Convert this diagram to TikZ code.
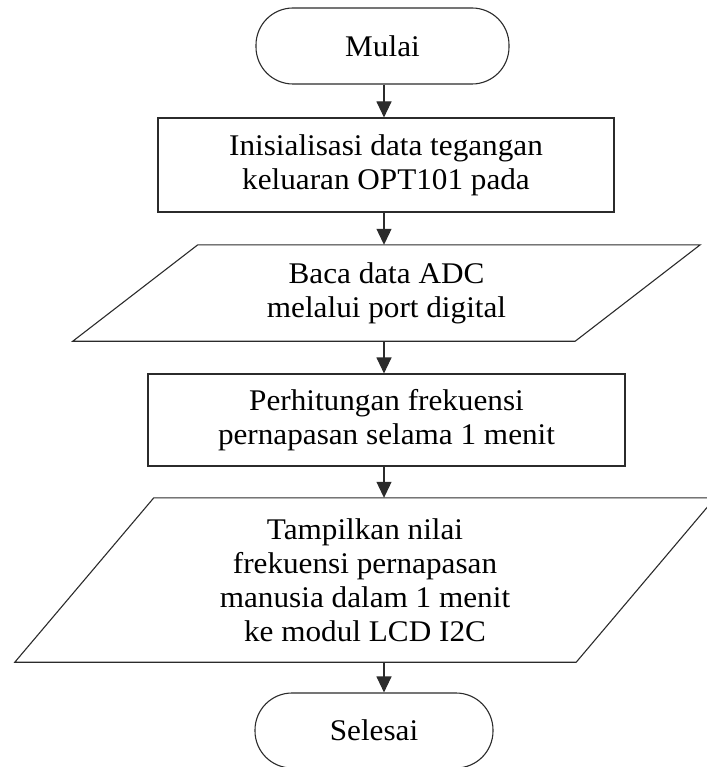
\documentclass[tikz,border=0pt]{standalone}
\usepackage{fontspec}
\setmainfont{Liberation Serif}[FakeStretch=1.04]
\usetikzlibrary{arrows.meta}
\definecolor{linec}{HTML}{2B2B2B}
\begin{document}
\begin{tikzpicture}[x=1pt,y=-1pt,
  base/.style={inner sep=0pt, align=center, font=\fontsize{30}{34}\selectfont, text=black},
  term/.style={base, draw=linec, line width=1.1pt, rounded corners=37pt},
  proc/.style={base, draw=linec, line width=1.1pt},
  io/.style={base},
  ioline/.style={draw=linec, line width=1.1pt},
  arr/.style={draw=linec, line width=1.1pt, -{Triangle[length=16pt,width=15pt]}},
]
\useasboundingbox (0,0) rectangle (706,767);
\coordinate (ax) at (384,0);
\node[term, minimum width=253pt, minimum height=76pt] (start) at (382.5,46) {Mulai};
\node[proc, minimum width=456pt, minimum height=94pt] (init) at (386,165) {Inisialisasi data tegangan\\keluaran OPT101 pada};
\node[io, minimum width=502pt, minimum height=96pt] (read) at (386.5,293) {Baca data ADC\\melalui port digital};
\draw[ioline] ([xshift=62.5pt]read.north west) -- ([xshift=62.5pt]read.north east) -- ([xshift=-62.5pt]read.south east) -- ([xshift=-62.5pt]read.south west) -- cycle;
\node[proc, minimum width=477pt, minimum height=92pt] (calc) at (386.5,420) {Perhitungan frekuensi\\pernapasan selama 1 menit};
\node[io, minimum width=561pt, minimum height=164pt] (show) at (365,580) {Tampilkan nilai\\frekuensi pernapasan\\manusia dalam 1 menit\\ke modul LCD I2C};
\draw[ioline] ([xshift=69.5pt]show.north west) -- ([xshift=69.5pt]show.north east) -- ([xshift=-69.5pt]show.south east) -- ([xshift=-69.5pt]show.south west) -- cycle;
\node[term, minimum width=238pt, minimum height=75pt] (end) at (374,730.5) {Selesai};
\draw[arr] (start.south -| ax) -- (init.north -| ax);
\draw[arr] (init.south -| ax) -- (read.north -| ax);
\draw[arr] (read.south -| ax) -- (calc.north -| ax);
\draw[arr] (calc.south -| ax) -- (show.north -| ax);
\draw[arr] (show.south -| ax) -- (end.north -| ax);
\end{tikzpicture}
\end{document}
